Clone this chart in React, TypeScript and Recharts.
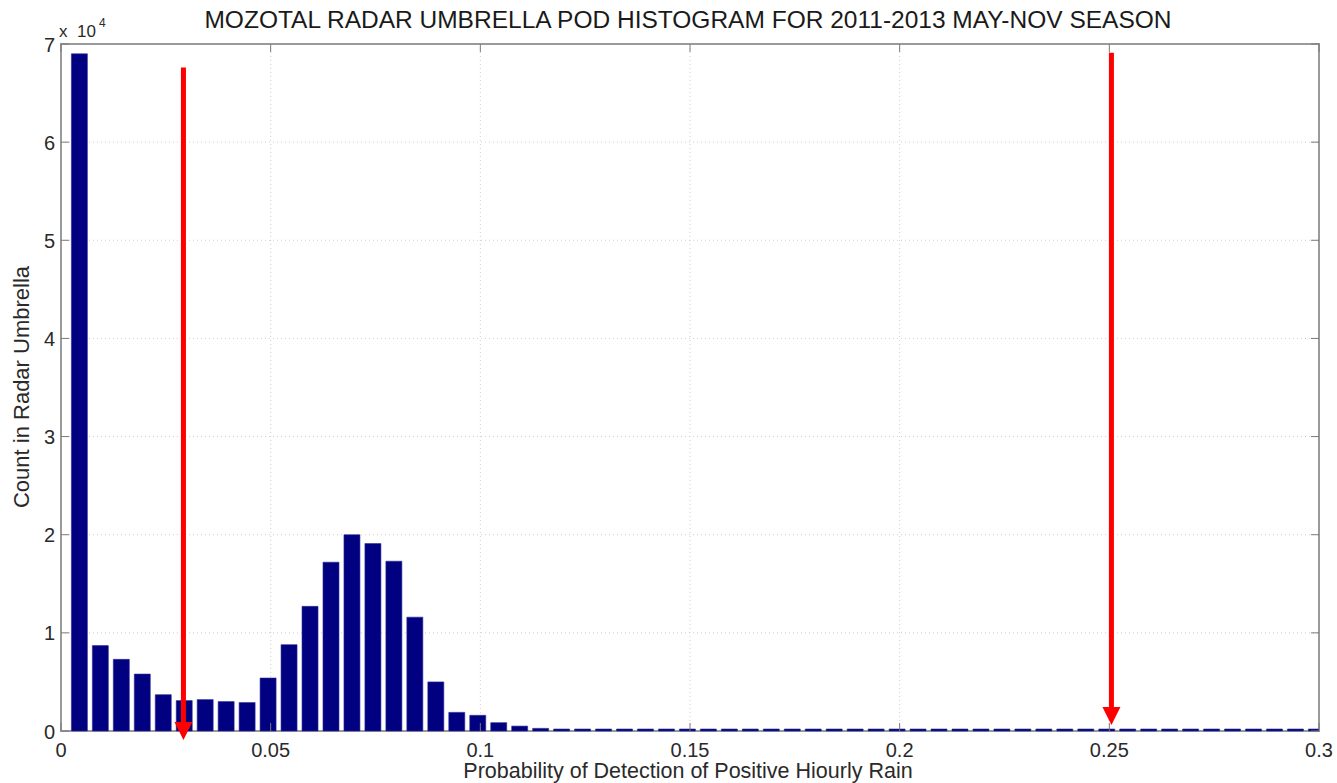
import type { ReactElement } from 'react'
import { Bar, BarChart, CartesianGrid, ReferenceArea, ReferenceLine, XAxis, YAxis } from 'recharts'

// Histogram bins: 60 bins of 0.005 across the POD range
const BIN_START = 0.002
const BIN_WIDTH = 0.005

const BIN_COUNTS = [
  69000, 8700, 7300, 5800, 3700, 3100, 3200, 3000, 2900, 5400,
  8800, 12700, 17200, 20000, 19100, 17300, 11600, 5000, 1900, 1600,
  850, 500, 270, 170, 140, 120, 110, 100, 95, 90,
  70, 60, 55, 50, 45, 45, 40, 40, 35, 35,
  30, 30, 30, 25, 25, 25, 20, 20, 20, 20,
  15, 15, 15, 15, 10, 10, 10, 10, 10, 10
]

const X_TICKS = [0, 0.05, 0.1, 0.15, 0.2, 0.25, 0.3]
const Y_TICKS = [0, 10000, 20000, 30000, 40000, 50000, 60000, 70000]

// Red marker arrows: x position, top of shaft, tip (counts)
const ARROW_X = [0.0292, 0.2505]
const ARROW_TOP = [67600, 69100]
const ARROW_TIP = [-920, 610]

const TITLE = 'MOZOTAL RADAR UMBRELLA POD HISTOGRAM FOR 2011-2013 MAY-NOV SEASON'
const X_LABEL = 'Probability of Detection of Positive Hiourly Rain'
const Y_LABEL = 'Count in Radar Umbrella'

const data = BIN_COUNTS.map((count, i) => ({
  x: BIN_START + (i + 0.5) * BIN_WIDTH,
  count
}))

const WIDTH = 1337
const HEIGHT = 783
const MARGIN = { top: 44, right: 18, bottom: 0, left: 0 }
const Y_AXIS_WIDTH = 61
const X_AXIS_HEIGHT = 52
const PLOT_TOP = MARGIN.top
const PLOT_RIGHT = WIDTH - MARGIN.right

const FONT = "'Liberation Sans', Arial, Helvetica, sans-serif"
const TEXT = '#2a2a2a'
const FRAME = '#9a9a9a'
const TICK_MARK = '#7a7a7a'
const BAR_FILL = '#000080'
const ARROW_RED = '#ff0000'
const TICK_LEN = 8

interface TickProps {
  x?: number
  y?: number
  payload?: { value: number }
}

function XTick({ x = 0, y = 0, payload }: TickProps): ReactElement {
  return (
    <g>
      <line x1={x} x2={x} y1={y} y2={y - TICK_LEN} stroke={TICK_MARK} />
      <line x1={x} x2={x} y1={PLOT_TOP} y2={PLOT_TOP + TICK_LEN} stroke={TICK_MARK} />
      <text x={x} y={y + 26} textAnchor="middle" fontSize={20} fontFamily={FONT} fill={TEXT}>
        {String(payload?.value ?? '')}
      </text>
    </g>
  )
}

function YTick({ x = 0, y = 0, payload }: TickProps): ReactElement {
  const v = (payload?.value ?? 0) / 10000
  return (
    <g>
      <line x1={x} x2={x + TICK_LEN} y1={y} y2={y} stroke={TICK_MARK} />
      <line x1={PLOT_RIGHT - TICK_LEN} x2={PLOT_RIGHT} y1={y} y2={y} stroke={TICK_MARK} />
      <text x={x - 6} y={y} dy="0.38em" textAnchor="end" fontSize={20} fontFamily={FONT} fill={TEXT}>
        {String(v)}
      </text>
    </g>
  )
}

interface SegmentProps {
  x1?: number
  y1?: number
  x2?: number
  y2?: number
}

// Shaft plus a filled triangular head pointing down at (x2, y2)
function ArrowShape({ x1 = 0, y1 = 0, x2 = 0, y2 = 0 }: SegmentProps): ReactElement {
  const head = 18
  const half = 9
  return (
    <g>
      <line x1={x1} x2={x2} y1={y1} y2={y2 - head + 1} stroke={ARROW_RED} strokeWidth={5} />
      <polygon
        points={`${x2 - half},${y2 - head} ${x2 + half},${y2 - head} ${x2},${y2}`}
        fill={ARROW_RED}
      />
    </g>
  )
}

export default function App(): ReactElement {
  return (
    <div style={{ position: 'absolute', left: 0, top: 0, width: WIDTH, height: HEIGHT, background: '#fff' }}>
      <BarChart width={WIDTH} height={HEIGHT} data={data} margin={MARGIN}>
        <CartesianGrid stroke="#cfcfcf" strokeDasharray="1 3" />
        <XAxis
          dataKey="x"
          type="number"
          domain={[0, 0.3]}
          ticks={X_TICKS}
          allowDataOverflow
          height={X_AXIS_HEIGHT}
          axisLine={false}
          tickLine={false}
          tickSize={0}
          tickMargin={0}
          tick={<XTick />}
          interval={0}
        />
        <YAxis
          type="number"
          domain={[0, 70000]}
          ticks={Y_TICKS}
          width={Y_AXIS_WIDTH}
          axisLine={false}
          tickLine={false}
          tickSize={0}
          tickMargin={0}
          tick={<YTick />}
          interval={0}
        />
        <Bar
          dataKey="count"
          fill={BAR_FILL}
          stroke="#2c2c94"
          strokeWidth={0.6}
          barSize={16}
          minPointSize={2}
          isAnimationActive={false}
        />
        <ReferenceArea
          x1={0}
          x2={0.3}
          y1={0}
          y2={70000}
          fill="none"
          fillOpacity={0}
          stroke={FRAME}
          strokeWidth={2}
          ifOverflow="visible"
        />
        {ARROW_X.map((ax, i) => (
          <ReferenceLine
            key={`arrow-${i}`}
            segment={[{ x: ax, y: ARROW_TOP[i] }, { x: ax, y: ARROW_TIP[i] }]}
            ifOverflow="visible"
            shape={(p: SegmentProps) => <ArrowShape {...p} />}
          />
        ))}
      </BarChart>
      <svg
        width={WIDTH}
        height={HEIGHT}
        style={{ position: 'absolute', left: 0, top: 0, pointerEvents: 'none' }}
        fontFamily={FONT}
        fill={TEXT}
      >
        <text x={688} y={28} textAnchor="middle" fontSize={24.5} fill="#1a1a1a">
          {TITLE}
        </text>
        <text x={688} y={778} textAnchor="middle" fontSize={21.5}>
          {X_LABEL}
        </text>
        <text
          x={0}
          y={0}
          transform="translate(29 387) rotate(-90)"
          textAnchor="middle"
          fontSize={22}
        >
          {Y_LABEL}
        </text>
        <text x={59} y={37} fontSize={17}>x</text>
        <text x={77} y={37} fontSize={17}>10</text>
        <text x={99} y={27} fontSize={12}>4</text>
      </svg>
    </div>
  )
}
